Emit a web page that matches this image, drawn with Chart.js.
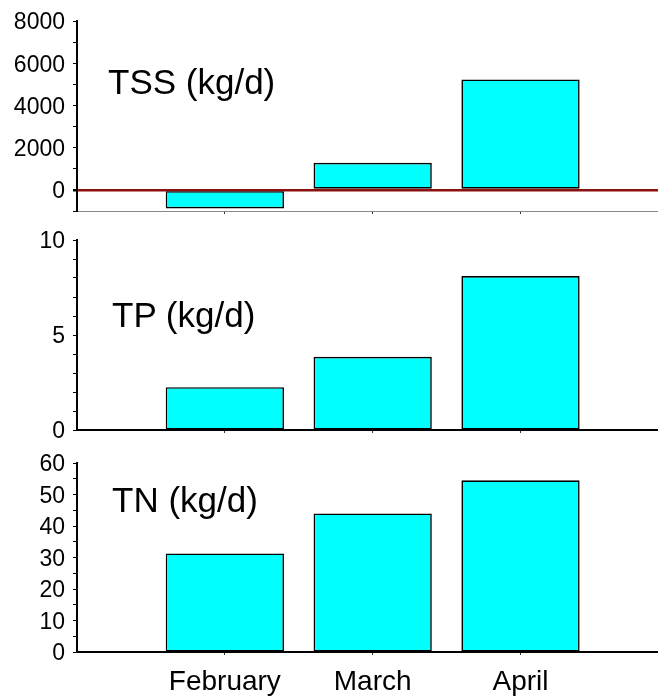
<!DOCTYPE html>
<html>
<head>
<meta charset="utf-8">
<script src="https://cdn.jsdelivr.net/npm/chart.js@4"></script>
<style>
  html, body { margin: 0; padding: 0; background: #fff; overflow: hidden; width: 658px; height: 696px; }
  canvas { position: absolute; left: 0; }
  .ttl { position: absolute; font-family: 'Liberation Sans', Arial, sans-serif; font-size: 35px; line-height: 35px; color: #000; white-space: nowrap; }
</style>
</head>
<body>
<canvas id="c1" width="658" height="222" style="top:0px"></canvas>
<canvas id="c2" width="658" height="218" style="top:222px"></canvas>
<canvas id="c3" width="658" height="256" style="top:440px"></canvas>
<div class="ttl" style="left:108px; top:64px">TSS (kg/d)</div>
<div class="ttl" style="left:112px; top:297px">TP (kg/d)</div>
<div class="ttl" style="left:112px; top:482px">TN (kg/d)</div>
<script>
// ---- data ----
const months = ['February', 'March', 'April'];
const tssValues = [-880, 1280, 5230];
const tpValues = [2.25, 3.85, 8.1];
const tnValues = [31.3, 44.0, 54.5];
const tssTicks = { min: -1000, max: 8000, step: 1000, labelEvery: 2000 };
const tpTicks = { min: 0, max: 10, step: 1, labelEvery: 5 };
const tnTicks = { min: 0, max: 60, step: 5, labelEvery: 10 };

const FONT = "'Liberation Sans', Arial, sans-serif";

function makeChart(id, values, tk, opts) {
  const data = values.map((v, i) => ({ x: i + 1, y: v }));
  return new Chart(document.getElementById(id), {
    type: 'bar',
    data: {
      datasets: [{
        data: data,
        backgroundColor: '#00FFFF',
        borderColor: '#000000',
        borderWidth: 1.6,
        borderSkipped: false,
        barPercentage: 0.8,
        categoryPercentage: 1.0
      }]
    },
    options: {
      responsive: false,
      animation: false,
      devicePixelRatio: 1,
      layout: { padding: { top: opts.padTop, left: 0, right: 0, bottom: 0 } },
      plugins: { legend: { display: false }, tooltip: { enabled: false } },
      scales: {
        x: {
          type: 'linear',
          min: 0,
          max: 3.93,
          offset: false,
          afterBuildTicks(scale) { scale.ticks = months.map((m, i) => ({ value: i + 1 })); },
          afterFit(scale) {
            scale.height = opts.xHeight;
            scale.paddingLeft = 0; scale.paddingRight = 0;
            scale.paddingTop = 0; scale.paddingBottom = 0;
          },
          ticks: {
            display: opts.showLabels,
            autoSkip: false,
            maxRotation: 0,
            padding: 10,
            color: '#000',
            font: { family: FONT, size: 28 },
            callback: (v) => months[v - 1] ?? ''
          },
          grid: { offset: false, drawOnChartArea: false, drawTicks: true, tickLength: 3, tickColor: '#333' },
          border: opts.xBorder
        },
        y: {
          min: tk.min,
          max: tk.max,
          z: opts.zeroLine ? 1 : 0,
          afterFit(scale) {
            scale.width = 77;
            scale.paddingTop = 0; scale.paddingBottom = 0;
            scale.paddingLeft = 0; scale.paddingRight = 0;
          },
          ticks: {
            stepSize: tk.step,
            autoSkip: false,
            padding: 8,
            labelOffset: 2,
            color: '#000',
            font: { family: FONT, size: 23 },
            callback: (v) => (Math.abs(v % tk.labelEvery) < 1e-9 && v >= 0) ? String(v) : ''
          },
          grid: {
            drawOnChartArea: !!opts.zeroLine,
            drawTicks: true,
            tickLength: 4,
            tickColor: '#000',
            color: (c) => (opts.zeroLine && c.tick && c.tick.value === 0) ? '#8B1010' : 'rgba(0,0,0,0)',
            lineWidth: (c) => (opts.zeroLine && c.tick && c.tick.value === 0) ? 2.5 : 1
          },
          border: { display: true, color: '#000', width: 2 }
        }
      }
    }
  });
}

makeChart('c1', tssValues, tssTicks, {
  padTop: 21, xHeight: 11, showLabels: false, zeroLine: true,
  xBorder: { display: true, color: '#888', width: 1, dash: [1, 3] }
});
makeChart('c2', tpValues, tpTicks, {
  padTop: 18, xHeight: 10, showLabels: false, zeroLine: false,
  xBorder: { display: true, color: '#000', width: 2 }
});
makeChart('c3', tnValues, tnTicks, {
  padTop: 23, xHeight: 44, showLabels: true, zeroLine: false,
  xBorder: { display: true, color: '#000', width: 2 }
});
</script>
</body>
</html>
